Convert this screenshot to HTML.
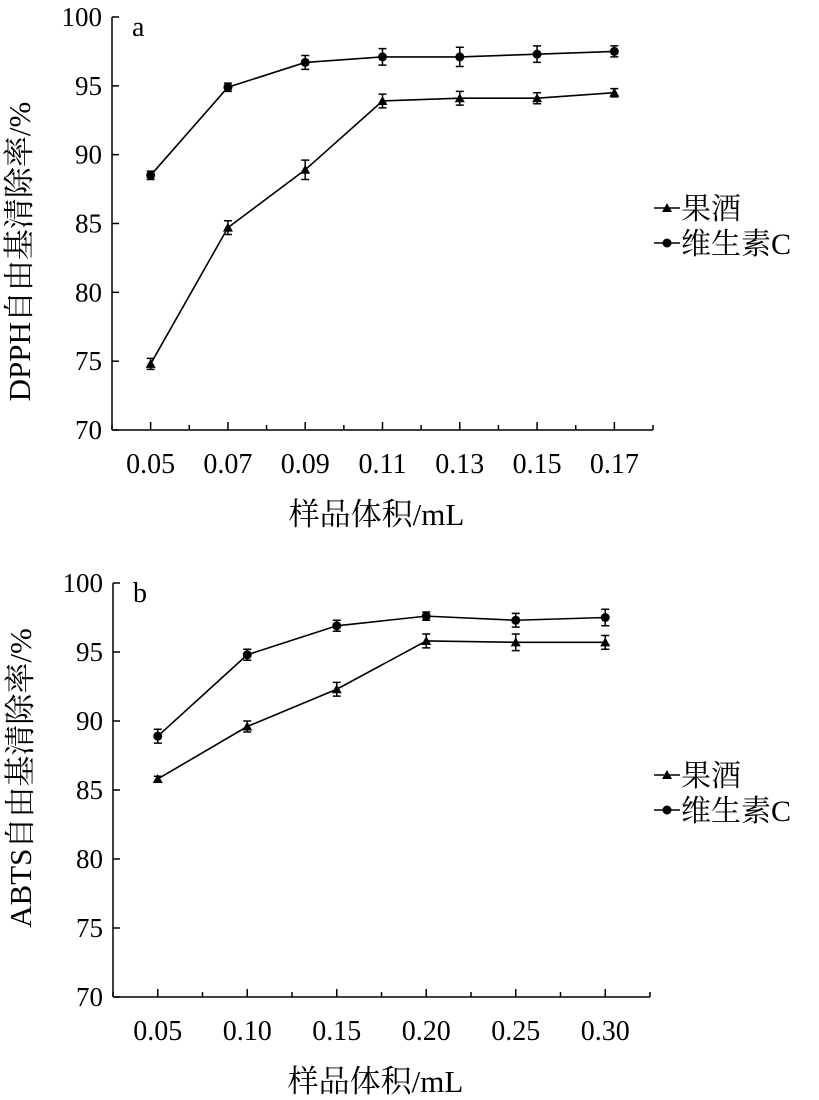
<!DOCTYPE html>
<html><head><meta charset="utf-8"><style>
html,body{margin:0;padding:0;background:#fff}
svg{display:block;font-family:"Liberation Serif","Noto Serif CJK SC",serif}
</style></head><body>
<svg id="c" width="819" height="1100" viewBox="0 0 819 1100"></svg>
<script>
const catsA=["0.05","0.07","0.09","0.11","0.13","0.15","0.17"];
const wineA=[74.8,84.7,88.9,93.9,94.1,94.1,94.5];
const wineErrA=[0.4,0.5,0.7,0.5,0.5,0.4,0.3];
const vcA=[88.5,94.9,96.7,97.1,97.1,97.3,97.5];
const vcErrA=[0.3,0.3,0.5,0.6,0.7,0.6,0.4];
const catsB=["0.05","0.10","0.15","0.20","0.25","0.30"];
const wineB=[85.8,89.6,92.3,95.8,95.7,95.7];
const wineErrB=[0.2,0.4,0.5,0.5,0.6,0.5];
const vcB=[88.9,94.8,96.9,97.6,97.3,97.5];
const vcErrB=[0.5,0.4,0.4,0.3,0.5,0.6];
const yTicks=[70,75,80,85,90,95,100];
const legendLabels=["果酒","维生素C"];
const NS="http://www.w3.org/2000/svg";
const svg=document.getElementById('c');
function mk(tag,attrs,parent,text){const e=document.createElementNS(NS,tag);for(const k in attrs)e.setAttribute(k,attrs[k]);if(text!==undefined)e.textContent=text;(parent||svg).appendChild(e);return e;}
function panel(o){
  const g=mk('g',{});
  
  
  const n=o.cats.length, step=(o.x1-o.x0)/n;
  const X=i=>o.x0+step*(i+0.5);
  const Y=v=>o.yb-(v-70)/30*(o.yb-o.yt);
  const axes=mk('g',{stroke:'#000','stroke-width':1.5,fill:'none'},g);
  
  
  mk('line',{x1:o.x0,y1:o.yt,x2:o.x0,y2:o.yb},axes);
  mk('line',{x1:o.x0,y1:o.yb,x2:o.x1,y2:o.yb},axes);
  yTicks.forEach(t=>{
    mk('line',{x1:o.x0,y1:Y(t),x2:o.x0+7,y2:Y(t)},axes);
    const tx=mk('text',{x:o.x0-10,y:Y(t)+9,'text-anchor':'end','font-size':27,fill:'#000',stroke:'none'},g,String(t));
    
    
  });
  for(let i=0;i<=n;i++){mk('line',{x1:o.x0+step*i,y1:o.yb,x2:o.x0+step*i,y2:o.yb-5},axes);}
  o.cats.forEach((c,i)=>{
    mk('line',{x1:X(i),y1:o.yb,x2:X(i),y2:o.yb-8},axes);
    const tx=mk('text',{x:X(i),y:o.yb+43,'text-anchor':'middle','font-size':28},g,c);
    
    
  });
  const xt=mk('text',{x:(o.x0+o.x1)/2-6,y:o.yb+95,'text-anchor':'middle','font-size':31},g,'样品体积/mL');
  
  
  const yt=mk('text',{x:0,y:0,'text-anchor':'middle','font-size':31,transform:`translate(${o.x0-82},${(o.yt+o.yb)/2+o.tOff}) rotate(-90)`},g,o.ytitle);
  
  
  const lb=mk('text',{x:o.x0+20,y:o.yt+19,'font-size':28},g,o.letter);
  
  
  [[o.wine,o.wineErr,'tri','wine'],[o.vc,o.vcErr,'dot','vitamin-c']].forEach(([vals,errs,m,nm])=>{
    const s=mk('g',{},g);
    
    
    mk('polyline',{points:vals.map((v,i)=>X(i)+','+Y(v)).join(' '),fill:'none',stroke:'#000','stroke-width':1.6},s);
    vals.forEach((v,i)=>{
      const e=errs[i];
      mk('path',{d:`M${X(i)},${Y(v+e)}V${Y(v-e)}M${X(i)-4},${Y(v+e)}H${X(i)+4}M${X(i)-4},${Y(v-e)}H${X(i)+4}`,stroke:'#000','stroke-width':1.5,fill:'none'},s);
      let p;
      if(m==='dot')p=mk('circle',{cx:X(i),cy:Y(v),r:4.5,fill:'#000'},s);
      else p=mk('path',{d:`M${X(i)},${Y(v)-5}L${X(i)+5},${Y(v)+4}L${X(i)-5},${Y(v)+4}Z`,fill:'#000'},s);
      
      
    });
  });
  legendLabels.forEach((l,k)=>{
    const ly=o.ly+k*35;
    const lg=mk('g',{},g);
    
    
    mk('line',{x1:654,y1:ly,x2:680,y2:ly,stroke:'#000','stroke-width':1.6},lg);
    if(k===0)mk('path',{d:`M667,${ly-5}L672,${ly+4}L662,${ly+4}Z`,fill:'#000'},lg);
    else mk('circle',{cx:667,cy:ly,r:4.5,fill:'#000'},lg);
    mk('text',{x:681,y:ly+11,'font-size':30},lg,l);
  });
}
panel({name:'panel-a-dpph',cats:catsA,wine:wineA,wineErr:wineErrA,vc:vcA,vcErr:vcErrA,x0:112,x1:653,yt:17,yb:430,ytitle:'DPPH自由基清除率/%',letter:'a',ly:208,tOff:28});
panel({name:'panel-b-abts',cats:catsB,wine:wineB,wineErr:wineErrB,vc:vcB,vcErr:vcErrB,x0:113,x1:650,yt:583,yb:997,ytitle:'ABTS自由基清除率/%',letter:'b',ly:775,tOff:-12});
</script>
</body></html>
